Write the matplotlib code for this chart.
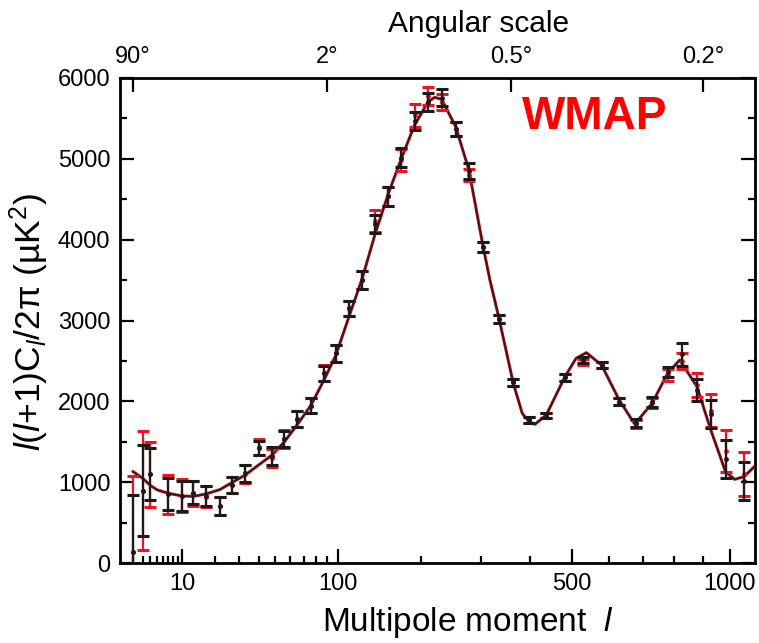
import numpy as np
import matplotlib
matplotlib.use("Agg")
from matplotlib import pyplot as plt
from matplotlib.ticker import FixedLocator, NullFormatter, MultipleLocator

plt.rcParams['font.family'] = ['Liberation Sans', 'DejaVu Sans']
plt.rcParams['mathtext.fontset'] = 'custom'
plt.rcParams['mathtext.rm'] = 'Liberation Sans'
plt.rcParams['mathtext.it'] = 'Liberation Sans:italic'

# binned spectrum
ell = [2, 3, 4, 7, 10, 13, 17, 22, 27, 33, 40, 48, 56, 65, 76, 87, 98,
       111, 125, 140, 156, 172, 191, 211, 232, 255, 278, 304,
       334, 364, 398, 437, 482, 528, 578, 628, 677, 728, 778, 827, 879, 929, 984, 1056]
black_val = [140, 895, 1097, 853, 833, 870, 833, 709, 965, 1110, 1420, 1324, 1534, 1781, 1946, 2346, 2594,
             3150, 3501, 4190, 4535, 5016, 5470, 5707, 5758, 5370, 4845, 3913,
             3020, 2233, 1769, 1824, 2295, 2507, 2449, 1995, 1731, 1995, 2366, 2580, 2142, 1845, 1285, 1016]
black_err = [700, 563, 320, 196, 185, 142, 125, 110, 100, 105, 85, 110, 105, 95, 93, 95, 103,
             90, 115, 110, 120, 115, 115, 111, 100, 90, 100, 62,
             48, 43, 33, 35, 40, 37, 41, 42, 45, 62, 62, 140, 134, 170, 237, 237]
red_val = [140, 895, 1097, 848, 833, 860, 820, 709, 965, 1100, 1440, 1300, 1534, 1781, 1946, 2346, 2594,
           3150, 3501, 4230, 4535, 4990, 5537, 5779, 5700, 5370, 4800, 3913,
           3020, 2233, 1769, 1824, 2295, 2490, 2449, 1995, 1720, 1980, 2330, 2500, 2200, 1886, 1387, 1103]
red_err = [940, 736, 400, 242, 200, 150, 130, 110, 105, 110, 100, 110, 110, 100, 95, 100, 105,
           95, 115, 140, 120, 135, 140, 113, 100, 90, 75, 62,
           48, 43, 33, 35, 40, 35, 41, 42, 45, 65, 75, 100, 145, 200, 258, 274]

# model curve
curve_ell = [2, 3, 4, 5, 7, 10, 13, 17, 22, 27, 33, 40, 48, 56, 65, 76, 87, 98,
             111, 125, 140, 156, 172, 191, 211, 221, 232, 255, 278, 304, 317, 334,
             364, 383, 398, 411, 437, 482, 510, 537, 578, 628, 674, 728, 778, 819,
             879, 929, 984, 1019, 1056, 1100]
curve_val = [1130, 1048, 960, 905, 862, 829, 825, 855, 911, 998, 1089, 1212, 1336, 1500, 1707, 1954, 2264, 2573,
             3050, 3520, 4080, 4573, 4985, 5418, 5707, 5761, 5736, 5397, 4861, 3913, 3500, 3047,
             2223, 1851, 1748, 1716, 1831, 2305, 2532, 2602, 2449, 2016, 1719, 1975, 2346, 2511,
             2181, 1645, 1129, 1035, 1068, 1200]

top_deg = [90, 2, 0.5, 0.2]
top_labels = ['90°', '2°', '0.5°', '0.2°']


def fwd(x):
    return np.power(np.clip(x, 1e-9, None), 0.4)


def inv(x):
    return np.power(np.clip(x, 1e-9, None), 2.5)


fig = plt.figure(figsize=(7.59, 6.43), dpi=100)
ax = fig.add_axes([120/759, 1-563/643, 635/759, 485/643])
ax.set_xscale('function', functions=(fwd, inv))

ax.plot(curve_ell, curve_val, color='#d8262e', lw=2.2, zorder=2)
ax.plot(curve_ell, curve_val, color='#3f1515', lw=1.4, zorder=3)
ax.errorbar(ell, red_val, yerr=red_err, fmt='o', color='#f0121e', ms=2.5, elinewidth=1.6,
            capsize=4, capthick=2.2, zorder=4)
ax.errorbar(ell, black_val, yerr=black_err, fmt='o', color='#1a1a1a', ms=2.5, elinewidth=1.6,
            capsize=4, capthick=2.2, zorder=5)

ax.set_xlim(1, 1100)
ax.set_ylim(0, 6000)

ax.xaxis.set_major_locator(FixedLocator([10, 100, 500, 1000]))
ax.set_xticklabels(['10', '100', '500', '1000'])
ax.xaxis.set_minor_locator(FixedLocator([2, 3, 4, 5, 6, 7, 8, 9, 20, 30, 40, 50, 60, 70, 80, 90,
                                         200, 300, 400, 600, 700, 800, 900]))
ax.xaxis.set_minor_formatter(NullFormatter())
ax.yaxis.set_major_locator(MultipleLocator(1000))
ax.yaxis.set_minor_locator(MultipleLocator(500))

ax.tick_params(which='both', direction='in', width=1.6, labelsize=17, right=True, top=False)
ax.tick_params(which='major', length=10, pad=7)
ax.tick_params(which='minor', length=5)
for s in ax.spines.values():
    s.set_linewidth(2.0)

ax.set_xlabel('Multipole moment  $\\mathit{l}$', fontsize=24)
ax.xaxis.set_label_coords(0.548, -0.086)
ax.set_ylabel('$\\mathit{l}$($\\mathit{l}$+1)C$_{\\mathit{l}}$/2π (µK$^{2}$)', fontsize=25.5)
ax.yaxis.set_label_coords(-0.108, 0.497)

ax2 = ax.twiny()
ax2.set_xscale('function', functions=(fwd, inv))
ax2.set_xlim(1, 1100)
ax2.xaxis.set_major_locator(FixedLocator([180.0 / d for d in top_deg]))
ax2.set_xticklabels(top_labels)
ax2.xaxis.set_minor_locator(FixedLocator([]))
ax2.tick_params(direction='in', length=10, width=1.6, labelsize=17, pad=7)
ax2.set_xlabel('Angular scale', fontsize=21.5)
ax2.xaxis.set_label_coords(0.564, 1.095)

ax.text(0.747, 0.92, 'WMAP', transform=ax.transAxes, color='#ff0000', fontsize=33,
        fontweight='bold', ha='center', va='center')

fig.savefig('out.png', dpi=100)
